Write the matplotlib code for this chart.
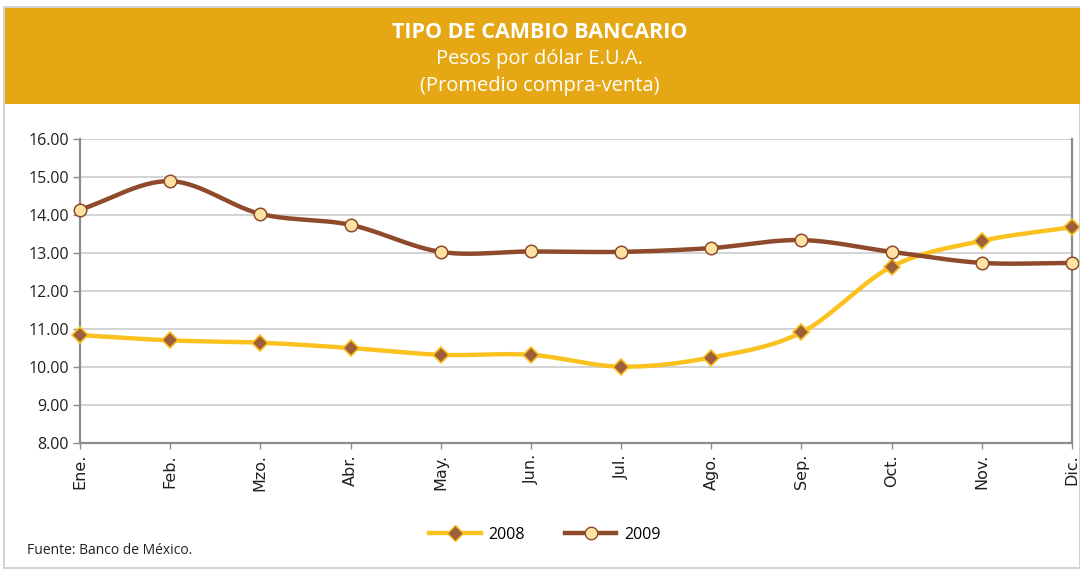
import numpy as np
import matplotlib
matplotlib.use("Agg")
import matplotlib.pyplot as plt
from matplotlib.patches import Rectangle
from matplotlib.lines import Line2D

plt.rcParams['font.family'] = ['Open Sans', 'DejaVu Sans']

months = ["Ene.", "Feb.", "Mzo.", "Abr.", "May.", "Jun.", "Jul.", "Ago.", "Sep.", "Oct.", "Nov.", "Dic."]
s2008 = [10.84, 10.70, 10.64, 10.50, 10.32, 10.32, 10.01, 10.25, 10.91, 12.64, 13.32, 13.68]
s2009 = [14.14, 14.89, 14.03, 13.74, 13.03, 13.04, 13.03, 13.13, 13.34, 13.03, 12.74, 12.74]
yticks = [8, 9, 10, 11, 12, 13, 14, 15, 16]

W, H = 1080, 569
fig = plt.figure(figsize=(W / 100, H / 100), dpi=100)

def fx(px):
    return px / W

def fy(py):
    return 1 - py / H

# outer frame
fig.add_artist(Rectangle((fx(4), fy(568)), fx(1080 - 4), (568 - 7) / H, transform=fig.transFigure,
                         facecolor='none', edgecolor='#c9c9c9', lw=1.2))
# header band
fig.add_artist(Rectangle((fx(5), fy(104)), fx(1080 - 5), (104 - 8) / H, transform=fig.transFigure,
                         facecolor='#E5A713', edgecolor='none'))
fig.text(0.5, fy(32), "TIPO DE CAMBIO BANCARIO", color='white', fontsize=15.5, fontweight='bold',
         ha='center', va='center')
fig.text(0.5, fy(59), "Pesos por dólar E.U.A.", color='white', fontsize=14.5, ha='center', va='center')
fig.text(0.5, fy(86), "(Promedio compra-venta)", color='white', fontsize=14.5, ha='center', va='center')

ax = fig.add_axes([fx(80), fy(443), fx(1072 - 80), (443 - 139) / H])

x = np.arange(len(months))


def smooth(xs, ys, n=30):
    xs = np.asarray(xs, float)
    ys = np.asarray(ys, float)
    P = np.column_stack([xs, ys])
    P = np.vstack([P[0] - (P[1] - P[0]), P, P[-1] + (P[-1] - P[-2])])
    out = []
    for i in range(1, len(P) - 2):
        p0, p1, p2, p3 = P[i - 1], P[i], P[i + 1], P[i + 2]
        t = np.linspace(0, 1, n, endpoint=(i == len(P) - 3))[:, None]
        c1 = p1 + (p2 - p0) / 6
        c2 = p2 - (p3 - p1) / 6
        seg = (1 - t) ** 3 * p1 + 3 * (1 - t) ** 2 * t * c1 + 3 * (1 - t) * t ** 2 * c2 + t ** 3 * p2
        out.append(seg)
    out = np.vstack(out)
    return out[:, 0], out[:, 1]

c08_line = '#FBC11F'
c08_mark = '#9E5F3B'
c09_line = '#8E4A2A'
c09_mark = '#FDE2A4'

sx, sy = smooth(x, s2008)
ax.plot(sx, sy, color=c08_line, lw=3.2, solid_capstyle='round', zorder=3, clip_on=False)
ax.plot(x, s2008, linestyle='none', marker='D', markersize=8.5, markerfacecolor=c08_mark,
        markeredgecolor=c08_line, markeredgewidth=1.2, zorder=4, clip_on=False)
sx, sy = smooth(x, s2009)
ax.plot(sx, sy, color=c09_line, lw=3.2, solid_capstyle='round', zorder=3, clip_on=False)
ax.plot(x, s2009, linestyle='none', marker='o', markersize=9, markerfacecolor=c09_mark,
        markeredgecolor=c09_line, markeredgewidth=1.1, zorder=4, clip_on=False)

ax.set_xlim(0, len(months) - 1)
ax.set_ylim(8, 16)
ax.set_yticks(yticks)
ax.set_yticklabels([f"{v:.2f}" for v in yticks], fontsize=11.5, color='#231f20')
ax.set_xticks(x)
ax.set_xticklabels(months, rotation=90, fontsize=11.5, color='#231f20', family=['DejaVu Sans'])
ax.yaxis.grid(True, color='#cccccc', lw=1.2)
ax.set_axisbelow(True)
for s in ['left', 'right']:
    ax.spines[s].set_color('#8c8c8c')
    ax.spines[s].set_linewidth(1.6)
ax.spines['bottom'].set_color('#8c8c8c')
ax.spines['bottom'].set_linewidth(1.6)
ax.spines['top'].set_visible(False)
ax.tick_params(axis='y', length=5, width=1, color='#8c8c8c', pad=3)
ax.tick_params(axis='x', length=4, width=1, color='#8c8c8c', pad=4)

handles = [
    Line2D([], [], color=c08_line, lw=3.2, marker='D', markersize=8.5, markerfacecolor=c08_mark,
           markeredgecolor=c08_line),
    Line2D([], [], color=c09_line, lw=3.2, marker='o', markersize=9, markerfacecolor=c09_mark,
           markeredgecolor=c09_line),
]
fig.legend(handles, ["2008", "2009"], loc='center', bbox_to_anchor=(fx(545), fy(535)), ncol=2,
           frameon=False, fontsize=11.5, handlelength=3.2, columnspacing=2.5, handletextpad=0.5)

fig.text(fx(27), fy(551), "Fuente: Banco de México.", fontsize=10, color='#231f20', ha='left', va='center')

fig.savefig("out.png", dpi=100)
